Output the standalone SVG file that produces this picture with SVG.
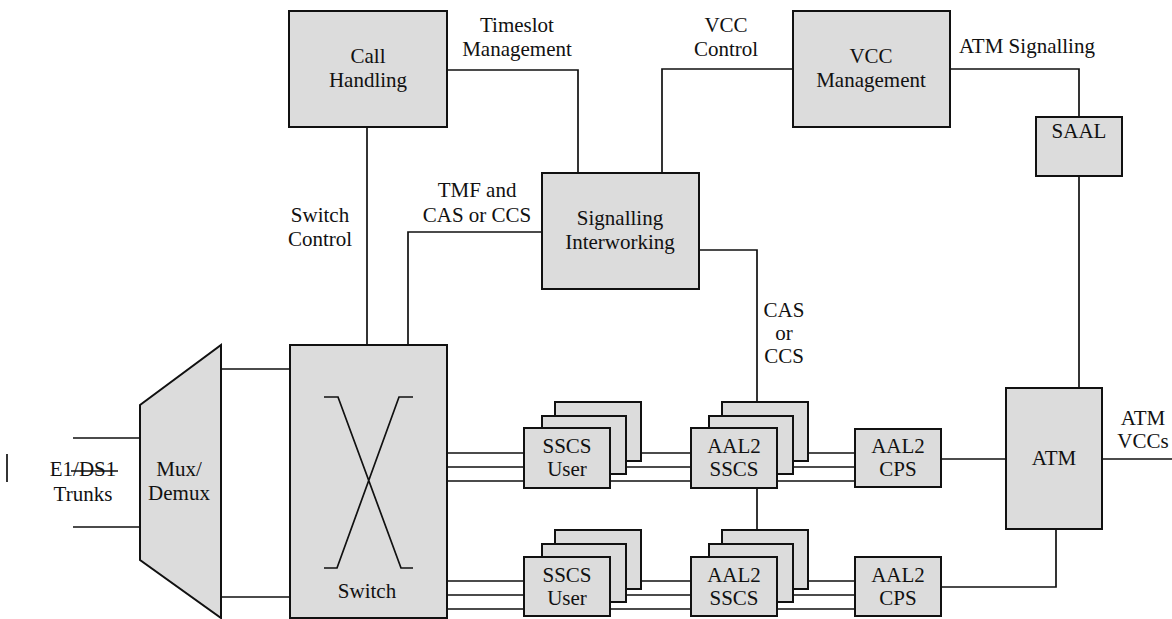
<svg xmlns="http://www.w3.org/2000/svg" width="1172" height="619" viewBox="0 0 1172 619">
<style>
.box{fill:#dcdcdc;stroke:#111;stroke-width:2}
.ln{fill:none;stroke:#111;stroke-width:1.7}
.t{font-family:'Liberation Serif','Times New Roman','DejaVu Serif',serif;font-size:21px;fill:#111;text-anchor:middle}
</style>
<rect width="1172" height="619" fill="#fff"/>
<g id="connectors">
<path class="ln" d="M367,127V345"/>
<path class="ln" d="M447,70H578V173"/>
<path class="ln" d="M793,69H662V173"/>
<path class="ln" d="M950,69H1079V117"/>
<path class="ln" d="M1079,176V388"/>
<path class="ln" d="M542,232H408V345"/>
<path class="ln" d="M699,250H757V402"/>
<path class="ln" d="M757,488V530"/>
<path class="ln" d="M941,459H1006"/>
<path class="ln" d="M941,587H1056V529"/>
<path class="ln" d="M1102,459H1172"/>
<path class="ln" d="M221,369H290M221,597H290"/>
<path class="ln" d="M73,438H140M73,527H140"/>
<path class="ln" d="M447,453H855M447,467H855M447,481H855"/>
<path class="ln" d="M447,581H855M447,595H855M447,609H855"/>
<path class="ln" d="M7,454V482"/>
</g>
<g id="call-handling">
<rect class="box" x="289" y="11" width="158" height="116"/>
<text class="t" x="368" y="63">Call</text>
<text class="t" x="368" y="87">Handling</text>
</g>
<g id="vcc-management">
<rect class="box" x="793" y="11" width="157" height="116"/>
<text class="t" x="871" y="63">VCC</text>
<text class="t" x="871" y="87">Management</text>
</g>
<g id="signalling-interworking">
<rect class="box" x="542" y="173" width="157" height="116"/>
<text class="t" x="620" y="225">Signalling</text>
<text class="t" x="620" y="249">Interworking</text>
</g>
<g id="saal">
<rect class="box" x="1036" y="117" width="86" height="59"/>
<text class="t" x="1079" y="138">SAAL</text>
</g>
<g id="atm">
<rect class="box" x="1006" y="388" width="96" height="141"/>
<text class="t" x="1054" y="465">ATM</text>
</g>
<g id="mux-demux">
<polygon class="box" points="140,405 221,345 221,618 140,560"/>
<text class="t" x="179" y="476">Mux/</text>
<text class="t" x="179" y="500">Demux</text>
</g>
<g id="switch">
<rect class="box" x="290" y="345" width="157" height="273"/>
<path class="ln" d="M324,397H338L401,568H413M413,397H399L337,568H324"/>
<text class="t" x="367" y="598">Switch</text>
</g>
<g id="sscs-user-1">
<rect class="box" x="555" y="402" width="86" height="59"/>
<rect class="box" x="542" y="416" width="84" height="58"/>
<rect class="box" x="524" y="428" width="86" height="60"/>
<text class="t" x="567" y="453">SSCS</text>
<text class="t" x="567" y="476">User</text>
</g>
<g id="sscs-user-2">
<rect class="box" x="555" y="530" width="86" height="59"/>
<rect class="box" x="542" y="544" width="84" height="58"/>
<rect class="box" x="524" y="557" width="86" height="59"/>
<text class="t" x="567" y="582">SSCS</text>
<text class="t" x="567" y="605">User</text>
</g>
<g id="aal2-sscs-1">
<rect class="box" x="722" y="402" width="86" height="59"/>
<rect class="box" x="709" y="416" width="84" height="58"/>
<rect class="box" x="691" y="428" width="86" height="60"/>
<text class="t" x="734" y="453">AAL2</text>
<text class="t" x="734" y="476">SSCS</text>
</g>
<g id="aal2-sscs-2">
<rect class="box" x="722" y="530" width="86" height="59"/>
<rect class="box" x="709" y="544" width="84" height="58"/>
<rect class="box" x="691" y="557" width="86" height="59"/>
<text class="t" x="734" y="582">AAL2</text>
<text class="t" x="734" y="605">SSCS</text>
</g>
<g id="aal2-cps-1">
<rect class="box" x="855" y="429" width="86" height="58"/>
<text class="t" x="898" y="453">AAL2</text>
<text class="t" x="898" y="476">CPS</text>
</g>
<g id="aal2-cps-2">
<rect class="box" x="855" y="557" width="86" height="59"/>
<text class="t" x="898" y="582">AAL2</text>
<text class="t" x="898" y="605">CPS</text>
</g>
<g id="labels">
<text class="t" x="517" y="32">Timeslot</text>
<text class="t" x="517" y="56">Management</text>
<text class="t" x="726" y="32">VCC</text>
<text class="t" x="726" y="56">Control</text>
<text class="t" x="1027" y="53">ATM Signalling</text>
<text class="t" x="477" y="197">TMF and</text>
<text class="t" x="477" y="222">CAS or CCS</text>
<text class="t" x="320" y="222">Switch</text>
<text class="t" x="320" y="246">Control</text>
<text class="t" x="784" y="317">CAS</text>
<text class="t" x="784" y="340">or</text>
<text class="t" x="784" y="363">CCS</text>
<text class="t" x="1143" y="425">ATM</text>
<text class="t" x="1143" y="448">VCCs</text>
<text class="t" x="83" y="476">E1/DS1</text>
<line class="ln" x1="71" y1="471" x2="118" y2="471"/>
<text class="t" x="83" y="501">Trunks</text>
</g>
</svg>
